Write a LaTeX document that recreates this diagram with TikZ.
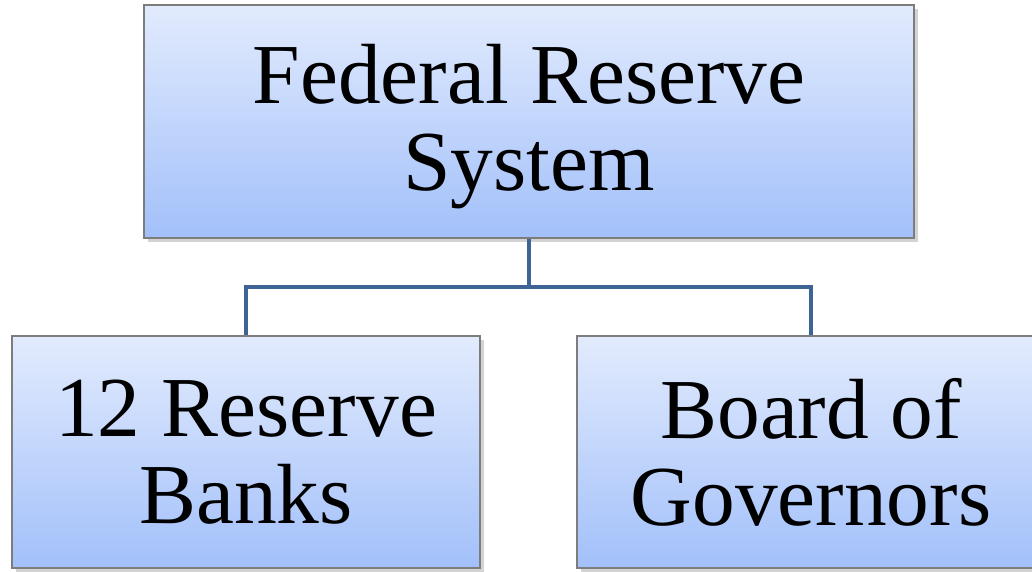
\documentclass[tikz,border=0pt]{standalone}
\usepackage{fontspec}
\setmainfont{Liberation Serif}
\usetikzlibrary{shadows}
\definecolor{boxtop}{RGB}{226,235,253}
\definecolor{boxbot}{RGB}{162,192,250}
\definecolor{boxline}{RGB}{125,125,125}
\definecolor{linkblue}{RGB}{62,100,150}
\begin{document}
\begin{tikzpicture}[
    orgbox/.style={draw=boxline, line width=0.6pt, top color=boxtop, bottom color=boxbot,
      drop shadow={shadow xshift=0.04cm, shadow yshift=-0.04cm, opacity=0.35},
      align=center, inner sep=0pt,
      font=\fontsize{24.3}{24.8}\selectfont},
    link/.style={draw=linkblue, line width=1.2pt}
  ]
    \useasboundingbox (0,0) rectangle (10.32,5.72);
    \node[orgbox, minimum width=7.70cm, minimum height=2.33cm] (fed) at (5.29,4.505) {\rule{0pt}{20pt}Federal Reserve\\System};
    \node[orgbox, minimum width=4.68cm, minimum height=2.32cm] (banks) at (2.46,1.20) {12 Reserve\\Banks};
    \node[orgbox, minimum width=4.68cm, minimum height=2.32cm] (board) at (8.11,1.20) {Board of\\Governors};
    \coordinate (split) at (5.29,2.85);
    \draw[link] (fed.south) -- (split);
    \draw[link] (split) -| (banks.north);
    \draw[link] (split) -| (board.north);
\end{tikzpicture}
\end{document}
